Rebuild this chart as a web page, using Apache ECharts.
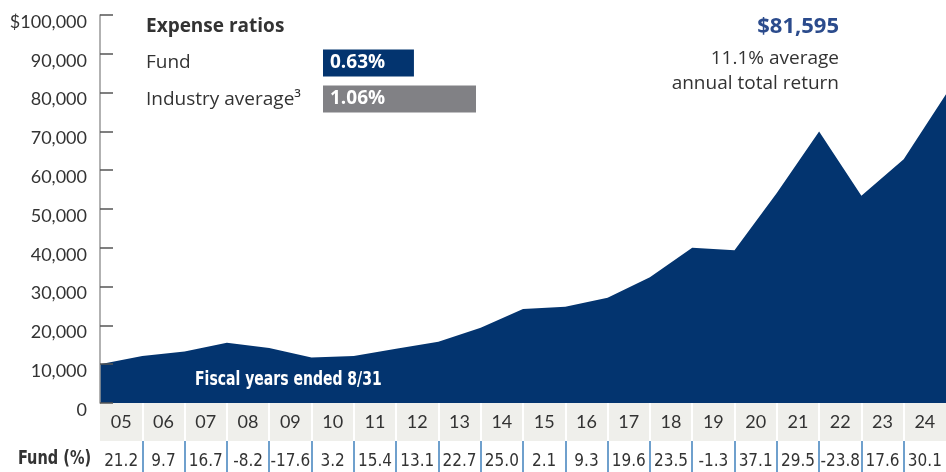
<!DOCTYPE html>
<html>
<head>
<meta charset="utf-8">
<script src="https://cdn.jsdelivr.net/npm/echarts@6/dist/echarts.min.js"></script>
<style>
  html, body { margin: 0; padding: 0; background: #fff; }
  #chart { width: 946px; height: 472px; }
</style>
</head>
<body>
<div id="chart"></div>
<script>
// growth of $10,000, value at each fiscal year end (first point = start)
var pointLabels = ['04', '05', '06', '07', '08', '09', '10', '11', '12', '13', '14',
  '15', '16', '17', '18', '19', '20', '21', '22', '23', '24'];
var accountValues = [10000, 12100, 13300, 15500, 14200, 11700, 12100, 14000, 15800, 19400, 24200,
  24800, 27100, 32400, 40000, 39400, 54100, 70000, 53400, 62800, 79600];
var fiscalYears = ['05', '06', '07', '08', '09', '10', '11', '12', '13', '14',
  '15', '16', '17', '18', '19', '20', '21', '22', '23', '24'];
var fundReturns = ['21.2', '9.7', '16.7', '-8.2', '-17.6', '3.2', '15.4', '13.1', '22.7', '25.0',
  '2.1', '9.3', '19.6', '23.5', '-1.3', '37.1', '29.5', '-23.8', '17.6', '30.1'];
var expenseNames = ['Fund', 'Industry average'];
var expenseRatios = [0.63, 1.06];

var NAVY = '#03346f';
var TXT = '#333333';
var FONT = 'Lato, "Noto Sans", sans-serif';
var WIDE = '"Open Sans", "Noto Sans", sans-serif';
var COND = '"DejaVu Sans Condensed", "Liberation Sans Narrow", sans-serif';

var chart = echarts.init(document.getElementById('chart'));

chart.setOption({
  animation: false,
  textStyle: { fontFamily: FONT },
  grid: [
    { left: 100, right: 0, top: 15, bottom: 69 },
    { left: 100, right: 0, top: 403, height: 38 },
    { left: 100, right: 0, top: 441, height: 31 },
    { left: 323, width: 153, top: 45, height: 72 }
  ],
  xAxis: [
    {
      gridIndex: 0, type: 'category', data: pointLabels, boundaryGap: false,
      axisLine: { show: false }, axisTick: { show: false }, axisLabel: { show: false }
    },
    {
      gridIndex: 1, type: 'category', data: fiscalYears, boundaryGap: true,
      axisLine: { show: false }, axisTick: { show: false },
      axisLabel: { interval: 0, inside: true, margin: 19, verticalAlign: 'middle', color: TXT, fontSize: 18, fontFamily: FONT },
      splitArea: { show: true, interval: 0, areaStyle: { color: ['#efefeb', '#efefeb'] } },
      splitLine: { show: true, interval: 0, showMinLine: false, showMaxLine: false, lineStyle: { color: '#ffffff', width: 2 } }
    },
    {
      gridIndex: 2, type: 'category', data: fundReturns, boundaryGap: true,
      axisLine: { show: false }, axisTick: { show: false },
      axisLabel: { interval: 0, hideOverlap: false, inside: true, margin: 10, verticalAlign: 'middle', color: TXT, fontSize: 17, fontFamily: COND },
      splitLine: { show: true, interval: 0, showMinLine: false, showMaxLine: false, lineStyle: { color: '#3f80bd', width: 1.5 } }
    },
    {
      gridIndex: 3, type: 'value', min: 0, max: 1.06, show: false
    }
  ],
  yAxis: [
    {
      gridIndex: 0, type: 'value', min: 0, max: 100000, interval: 10000, z: 3,
      axisLine: { show: true, lineStyle: { color: '#999999', width: 1.5 } },
      axisTick: { show: true, inside: true, length: 13, lineStyle: { color: '#555555', width: 1.5 } },
      splitLine: { show: false },
      axisLabel: {
        color: TXT, fontSize: 18, margin: 13, verticalAlign: 'top', lineHeight: 14,
        formatter: function (v) { return v === 100000 ? '$100,000' : v.toLocaleString('en-US'); }
      }
    },
    { gridIndex: 1, type: 'value', show: false },
    { gridIndex: 2, type: 'value', show: false },
    { gridIndex: 3, type: 'category', data: expenseNames, inverse: true, show: false }
  ],
  series: [
    {
      type: 'line', xAxisIndex: 0, yAxisIndex: 0, data: accountValues,
      symbol: 'none', lineStyle: { width: 0 }, itemStyle: { color: NAVY },
      areaStyle: { color: NAVY, opacity: 1 }
    },
    {
      type: 'bar', xAxisIndex: 3, yAxisIndex: 3, barWidth: 27,
      data: [
        { value: expenseRatios[0], itemStyle: { color: NAVY } },
        { value: expenseRatios[1], itemStyle: { color: '#818185' } }
      ],
      label: {
        show: true, position: 'insideLeft', distance: 7, color: '#ffffff',
        fontSize: 19, fontWeight: 'bold', fontFamily: WIDE,
        formatter: function (p) { return p.value.toFixed(2) + '%'; }
      }
    }
  ],
  graphic: [
    { type: 'text', left: 146, top: 17, style: { text: 'Expense ratios', font: 'bold 19px ' + WIDE, fill: TXT } },
    { type: 'text', left: 146, top: 53, style: { text: expenseNames[0], font: '19px ' + WIDE, fill: TXT } },
    { type: 'text', left: 146, top: 90, style: { text: expenseNames[1] + '³', font: '19px ' + WIDE, fill: TXT } },
    { type: 'text', right: 107, top: 16, style: { text: '$81,595', font: 'bold 22px ' + WIDE, fill: '#2b4b8c', textAlign: 'right' } },
    { type: 'text', right: 107, top: 49, style: { text: '11.1% average', font: '19px ' + WIDE, fill: TXT, textAlign: 'right' } },
    { type: 'text', right: 107, top: 74, style: { text: 'annual total return', font: '19px ' + WIDE, fill: TXT, textAlign: 'right' } },
    { type: 'text', left: 195, top: 371, z: 10, scaleX: 0.82, style: { text: 'Fiscal years ended 8/31', font: 'bold 19px ' + COND, fill: '#ffffff' } },
    { type: 'text', left: 18, top: 450, scaleX: 0.85, style: { text: 'Fund (%)', font: 'bold 19px ' + COND, fill: TXT } }
  ]
});
</script>
</body>
</html>
